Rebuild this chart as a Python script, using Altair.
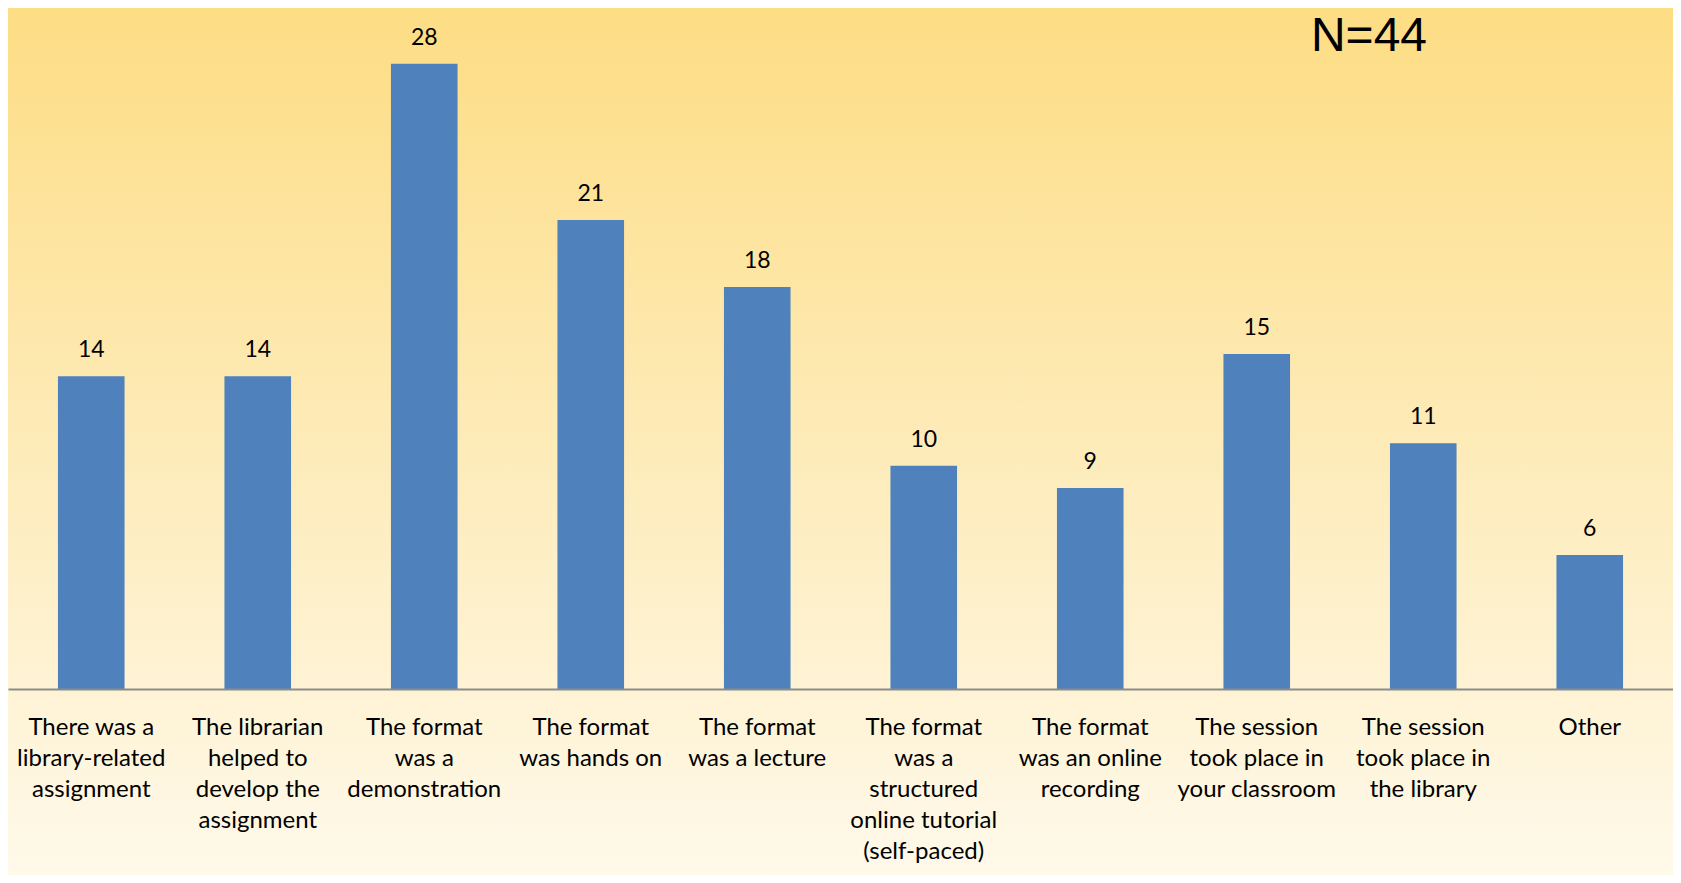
import altair as alt
import pandas as pd

categories = [
    "There was a|library-related|assignment",
    "The librarian|helped to|develop the|assignment",
    "The format|was a|demonstration",
    "The format|was hands on",
    "The format|was a lecture",
    "The format|was a|structured|online tutorial|(self-paced)",
    "The format|was an online|recording",
    "The session|took place in|your classroom",
    "The session|took place in|the library",
    "Other",
]
values = [14, 14, 28, 21, 18, 10, 9, 15, 11, 6]
note = "N=44"

df = pd.DataFrame({"cat": categories, "val": values})

W, H = 1665, 670
PT, PB = 11, 186
FONT = "Lato"

xenc = alt.X(
    "cat:N",
    sort=None,
    scale=alt.Scale(paddingInner=0.6, paddingOuter=0.3),
    axis=alt.Axis(
        title=None,
        labelAngle=0,
        labelExpr="split(datum.label, '|')",
        labelFont=FONT,
        labelFontSize=24,
        labelColor="#000000",
        labelLineHeight=31,
        labelPadding=26,
        labelBaseline="top",
        labelLimit=0,
        labelOverlap=False,
        ticks=False,
        domainColor="#8c8c8c",
        domainWidth=2,
        zindex=1,
    ),
)
yenc = alt.Y("val:Q", scale=alt.Scale(domain=[0, 30], nice=False), axis=None)

bg = alt.Chart(df).mark_rect(
    clip=False,
    fill=alt.Gradient(
        gradient="linear",
        x1=0, y1=0, x2=0, y2=1,
        stops=[
            alt.GradientStop(color="#FDDD84", offset=0),
            alt.GradientStop(color="#FDEBB8", offset=0.5),
            alt.GradientStop(color="#FFF9EA", offset=1),
        ],
    ),
).encode(
    x=alt.value(0), x2=alt.value(W), y=alt.value(-PT), y2=alt.value(H + PB)
)

bars = alt.Chart(df).mark_bar(color="#4F81BD").encode(x=xenc, y=yenc)

labels = alt.Chart(df).mark_text(
    font=FONT, fontSize=23, color="#000000", dy=-26, baseline="middle"
).encode(x=xenc, y=yenc, text="val:Q")

nlabel = alt.Chart(pd.DataFrame({"t": [note]})).mark_text(
    font="Liberation Sans", fontSize=48, color="#000000", align="center", baseline="middle"
).encode(x=alt.value(1361), y=alt.value(18), text="t:N")

chart = alt.layer(bg, bars, labels, nlabel).properties(
    width=W, height=H,
    autosize=alt.AutoSizeParams(type="none"),
    padding={"left": 0, "right": 0, "top": PT, "bottom": PB},
    background="#FFF9EA",
).configure_view(stroke=None)

chart.save("out.html", embed_options={"renderer": "svg", "actions": False})
